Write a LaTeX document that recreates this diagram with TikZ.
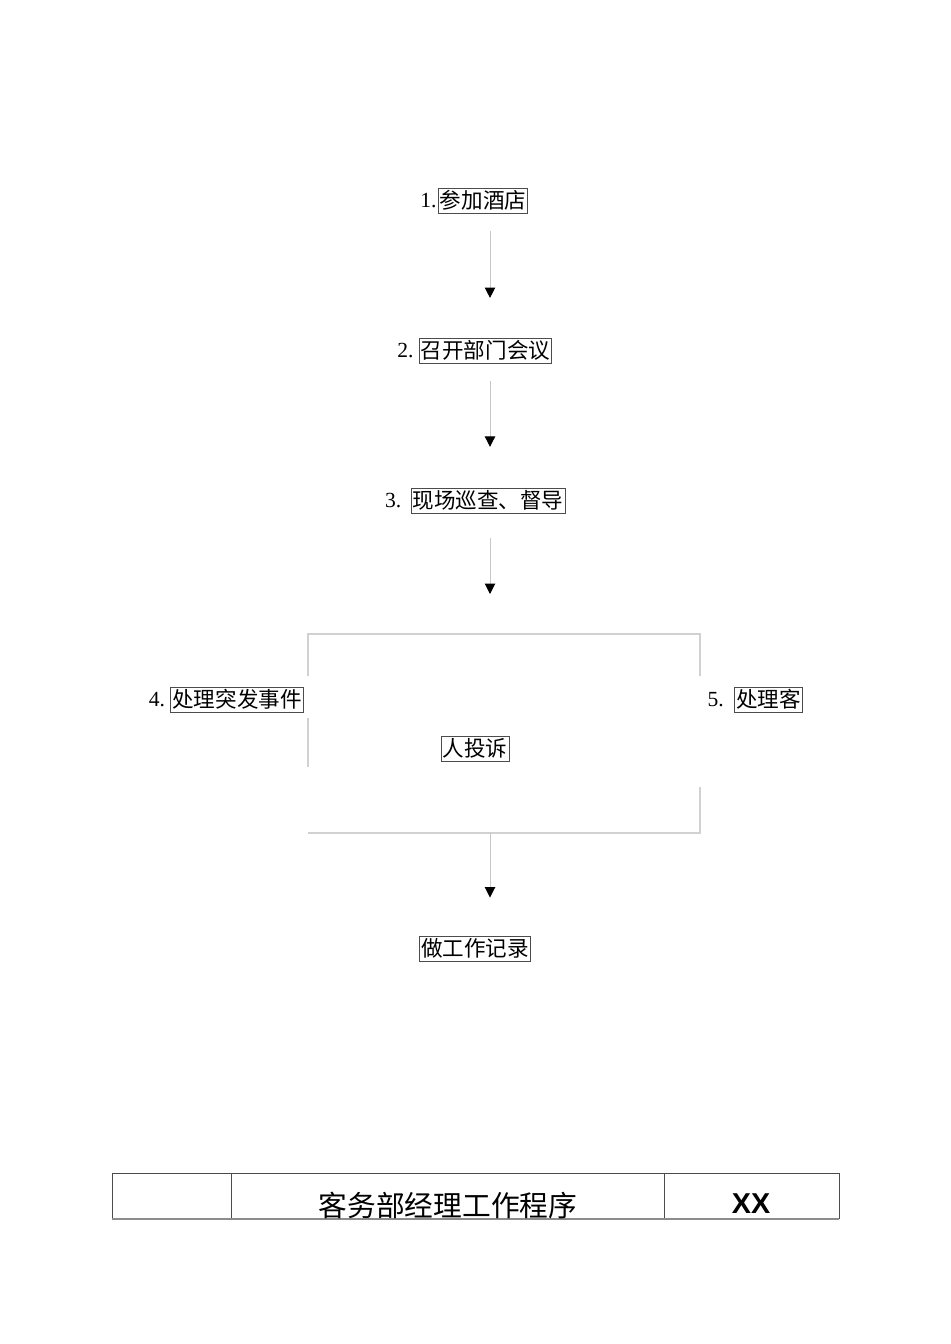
\documentclass[tikz,border=0pt]{standalone}
\usepackage{fontspec}
\setmainfont{Liberation Serif}
\newfontfamily\cjk{Noto Sans CJK SC}
\newfontfamily\heiti{Liberation Sans}
\usetikzlibrary{arrows.meta, positioning}

\begin{document}
\begin{tikzpicture}[x=0.6264pt, y=-0.6264pt,
    stepbox/.style={draw=black!70, line width=0.5pt, inner sep=1pt, font=\cjk\fontsize{13.5}{16}\selectfont, text height=11.6pt, text depth=2.4pt},
    stepnum/.style={inner sep=0pt, font=\fontsize{13.5}{16}\selectfont},
    flow/.style={draw=black!22, line width=0.6pt, -{Triangle[width=6.5pt, length=6.5pt, black]}},
    frameline/.style={draw=black!18, line width=0.7pt},
    tableline/.style={draw=black!70, line width=0.6pt}]
    \useasboundingbox (0,0) rectangle (950,1344);
    \coordinate (axis) at (490,0);
    % Steps
    \node[stepbox] (join) at (483,201) {参加酒店};
    \node[stepnum, left=0.6pt of join] (joinnum) {1.};
    \node[stepbox] (meeting) at (485.5,351) {召开部门会议};
    \node[stepnum, left=3.1pt of meeting] (meetingnum) {2.};
    \node[stepbox] (patrol) at (488,501) {现场巡查、督导};
    \node[stepnum, left=5.6pt of patrol] (patrolnum) {3.};
    \node[stepbox] (emergency) at (237,700) {处理突发事件};
    \node[stepnum, left=3.1pt of emergency] (emergencynum) {4.};
    \node[stepbox] (guest) at (768.5,700) {处理客};
    \node[stepnum, left=6.3pt of guest] (guestnum) {5.};
    \node[stepbox] (complaint) at (475,749) {人投诉};
    \node[stepbox] (record) at (475,949) {做工作记录};
    % Frame round steps 4 and 5
    \draw[frameline] (308,676) -- (308,634) -- (700,634) -- (700,676);
    \draw[frameline] (308,718) -- (308,767);
    \draw[frameline] (700,787) -- (700,833) -- (308,833);
    \coordinate (framebot) at (490,833);
    % Arrows
    \draw[flow, shorten <=10.6pt, shorten >=25pt] (join.south -| axis) -- (meeting.north -| axis);
    \draw[flow, shorten <=10.6pt, shorten >=25.7pt] (meeting.south -| axis) -- (patrol.north -| axis);
    \draw[flow, shorten <=15pt] (patrol.south -| axis) -- (490,594);
    \draw[flow, shorten >=24pt] (framebot) -- (record.north -| axis);
    % Title table
    \draw[tableline] (112,1219) -- (112,1173) -- (839,1173) -- (839,1219);
    \draw[tableline] (231,1173) -- (231,1219);
    \draw[tableline] (664,1173) -- (664,1219);
    \draw[draw=black!45, line width=1.3pt] (112,1219) -- (839,1219);
    \node[inner sep=0pt, font=\cjk\fontsize{18}{20}\selectfont] (title) at (448,1205) {客务部经理工作程序};
    \node[inner sep=0pt, font=\heiti\bfseries\fontsize{18}{20}\selectfont] (code) at (751,1204) {XX};
\end{tikzpicture}
\end{document}
